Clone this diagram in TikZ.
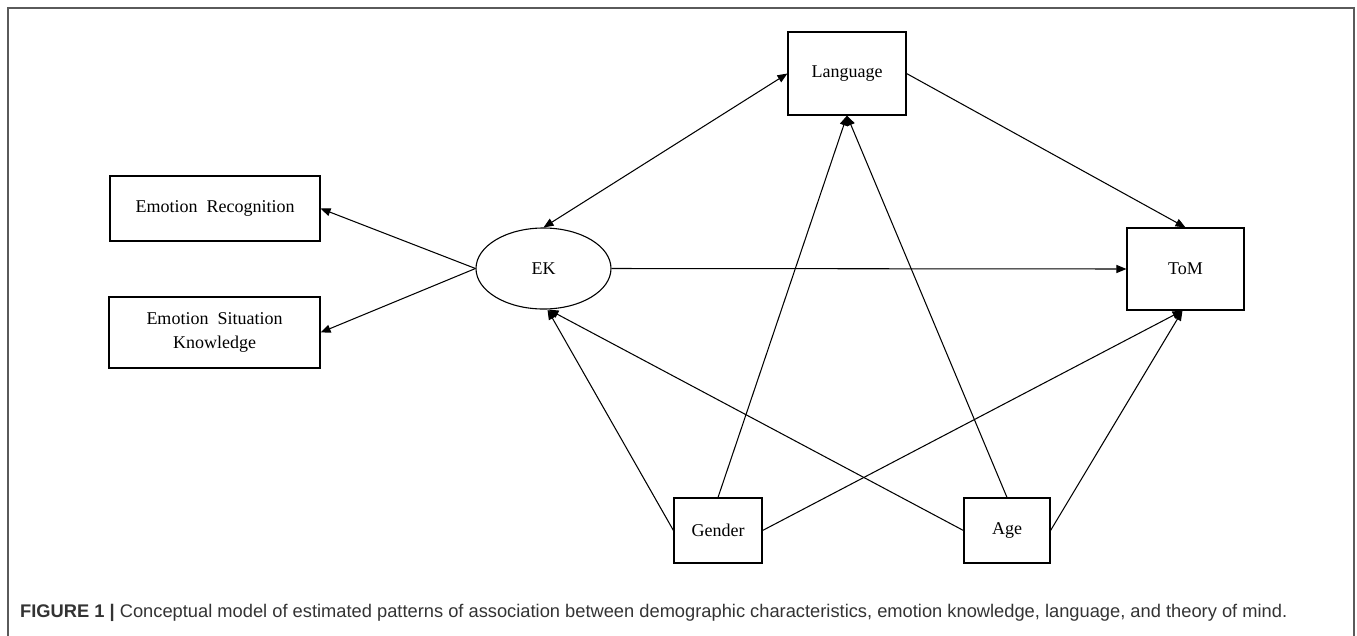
\documentclass[tikz,border=0pt]{standalone}
\usepackage{fontspec}
\setmainfont{Liberation Serif}
\newfontfamily\capfont{Liberation Sans}
\usetikzlibrary{arrows.meta,shapes.geometric}
\definecolor{framegray}{HTML}{5A5A5A}
\definecolor{capgray}{HTML}{333333}
\begin{document}
\begin{tikzpicture}[x=1pt,y=-1pt,
  box/.style={draw, line width=1.1pt, rectangle, inner sep=0pt, align=center,
    font=\fontsize{18}{24}\selectfont},
  oval/.style={draw, line width=1.1pt, ellipse, inner sep=0pt,
    font=\fontsize{18}{24}\selectfont},
  conn/.style={line width=1.05pt, -{Triangle[length=10pt,width=8pt]}},
  both/.style={line width=1.05pt, {Triangle[length=10pt,width=8pt]}-{Triangle[length=10pt,width=8pt]}}]
\useasboundingbox (0,0) rectangle (1357,635);
\draw[framegray, line width=1.5pt] (8,645) -- (8,8) -- (1354,8) -- (1354,645);

\node[box, minimum width=118pt, minimum height=83pt] (Lang) at (847,73.5) {Language};
\node[box, minimum width=117pt, minimum height=82pt] (ToM) at (1185.5,269) {ToM};
\node[box, minimum width=210pt, minimum height=65pt] (ER) at (215,208.5) {Emotion\ \ Recognition};
\node[box, minimum width=211pt, minimum height=71pt] (ESK) at (214.5,332.5) {Emotion\ \ Situation\\Knowledge};
\node[oval, minimum width=135pt, minimum height=81pt] (EK) at (543.5,268.5) {EK};
\node[box, minimum width=88pt, minimum height=65pt] (Gen) at (718,530.5) {Gender};
\node[box, minimum width=86pt, minimum height=65pt] (Age) at (1007,530.5) {Age};

\draw[conn] (EK.west) -- (ER.east);
\draw[conn] (EK.west) -- (ESK.east);
\draw[both] (EK.north) -- (Lang.west);
\draw[conn] (Lang.east) -- (ToM.north);
\draw[conn] (EK.east) -- (ToM.west);
\draw[conn] (Gen.west) -- ([xshift=4pt]EK.south);
\draw[conn] (Age.west) -- ([xshift=5pt]EK.south);
\draw[conn] (Gen.north) -- (Lang.south);
\draw[conn] (Age.north) -- (Lang.south);
\draw[conn] (Gen.east) -- ([xshift=-3pt]ToM.south);
\draw[conn] (Age.east) -- ([xshift=-3pt]ToM.south);

\node[anchor=west, inner sep=0pt, text=capgray] (cap) at (20,613)
  {\resizebox{1267pt}{!}{\capfont\fontsize{17}{20}\selectfont\textbf{FIGURE 1 |} Conceptual model of estimated patterns of association between demographic characteristics, emotion knowledge, language, and theory of mind.}};
\end{tikzpicture}
\end{document}
